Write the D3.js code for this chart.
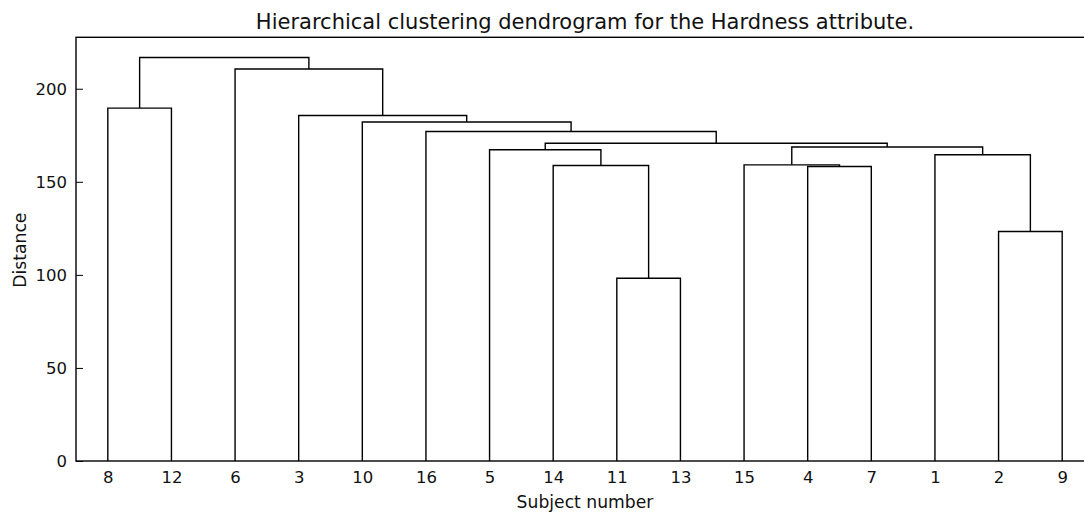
<!DOCTYPE html>
<html>
<head>
<meta charset="utf-8">
<script src="https://cdn.jsdelivr.net/npm/d3@7"></script>
<style>
  body { margin: 0; background: #fff; }
  text { font-family: "DejaVu Sans", sans-serif; fill: #111; }
</style>
</head>
<body>
<div id="chart"></div>
<script>
// leaves in the order the dendrogram draws them
const leafOrder = [8, 12, 6, 3, 10, 16, 5, 14, 11, 13, 15, 4, 7, 1, 2, 9];
// merge i joins mergeA[i] and mergeB[i] (numbers = subjects, 'mK' = earlier merge K)
const mergeA = [11, 2, 4, 14, 15, 1, 5, 'm4', 'm6', 16, 10, 3, 8, 6, 'm12'];
const mergeB = [13, 9, 7, 'm0', 'm2', 'm1', 'm3', 'm5', 'm7', 'm8', 'm9', 'm10', 12, 'm11', 'm13'];
const mergeHeight = [98.2, 123.3, 158.2, 158.8, 159.1, 164.5, 167.2, 168.7, 170.7, 177.0, 182.1, 185.6, 189.6, 210.6, 216.8];
const yTicks = [0, 50, 100, 150, 200];

const width = 1084;
const height = 514;
const plot = { left: 76, right: 1094, top: 37.3, bottom: 461 }; // right spine falls just past the window

const svg = d3.select('#chart')
  .append('svg')
  .attr('width', width)
  .attr('height', height)
  .style('display', 'block');

svg.append('rect').attr('width', width).attr('height', height).attr('fill', '#fff');

// scipy style coordinates: leaves at 5, 15, 25 ... and the axis runs 0..10*n
const x = d3.scaleLinear()
  .domain([0, leafOrder.length * 10])
  .range([plot.left, plot.right]);

const yMax = d3.max(mergeHeight) * 1.05;
const y = d3.scaleLinear()
  .domain([0, yMax])
  .range([plot.bottom, plot.top]);

// work out where every node sits
const pos = {};
leafOrder.forEach((s, i) => { pos[s] = { x: 5 + 10 * i, h: 0 }; });
const links = mergeHeight.map((h, i) => {
  const a = pos[mergeA[i]], b = pos[mergeB[i]];
  pos['m' + i] = { x: (a.x + b.x) / 2, h: h };
  return { a, b, h };
});

svg.append('g')
  .attr('fill', 'none')
  .attr('stroke', '#000')
  .attr('stroke-width', 1.4)
  .selectAll('path')
  .data(links)
  .join('path')
    .attr('d', d => `M${x(d.a.x)},${y(d.a.h)}V${y(d.h)}H${x(d.b.x)}V${y(d.b.h)}`);

// y axis, ticks pointing inwards like old matplotlib
const yAxis = svg.append('g')
  .attr('transform', `translate(${x(0)},0)`)
  .call(d3.axisLeft(y).tickValues(yTicks).tickSizeInner(-7).tickSizeOuter(0).tickPadding(9))
  .attr('font-size', 16.5)
  .attr('font-family', '"DejaVu Sans", sans-serif');
yAxis.select('.domain').remove();
yAxis.selectAll('line').attr('stroke', '#000');

svg.append('g')
  .attr('transform', `translate(${x(leafOrder.length * 10)},0)`)
  .call(d3.axisRight(y).tickValues(yTicks).tickSizeInner(-7).tickSizeOuter(0).tickFormat(''))
  .call(g => g.select('.domain').remove())
  .selectAll('line').attr('stroke', '#000');

// leaf labels
const xLeaf = d3.scalePoint()
  .domain(leafOrder)
  .range([x(5), x(leafOrder.length * 10 - 5)]);

const xAxis = svg.append('g')
  .attr('transform', `translate(0,${plot.bottom})`)
  .call(d3.axisBottom(xLeaf).tickSize(0).tickPadding(10))
  .attr('font-size', 16.5)
  .attr('font-family', '"DejaVu Sans", sans-serif');
xAxis.select('.domain').remove();

// frame
svg.append('rect')
  .attr('x', x(0))
  .attr('y', y(yMax))
  .attr('width', x(leafOrder.length * 10) - x(0))
  .attr('height', y(0) - y(yMax))
  .attr('fill', 'none')
  .attr('stroke', '#000')
  .attr('stroke-width', 1.4);

svg.append('text')
  .attr('x', (plot.left + plot.right) / 2)
  .attr('y', 29)
  .attr('text-anchor', 'middle')
  .attr('font-size', 21)
  .text('Hierarchical clustering dendrogram for the Hardness attribute.');

svg.append('text')
  .attr('x', (plot.left + plot.right) / 2)
  .attr('y', 508)
  .attr('text-anchor', 'middle')
  .attr('font-size', 17.2)
  .text('Subject number');

svg.append('text')
  .attr('transform', `translate(26,${(plot.top + plot.bottom) / 2 + 1}) rotate(-90)`)
  .attr('text-anchor', 'middle')
  .attr('font-size', 17.2)
  .text('Distance');
</script>
</body>
</html>
